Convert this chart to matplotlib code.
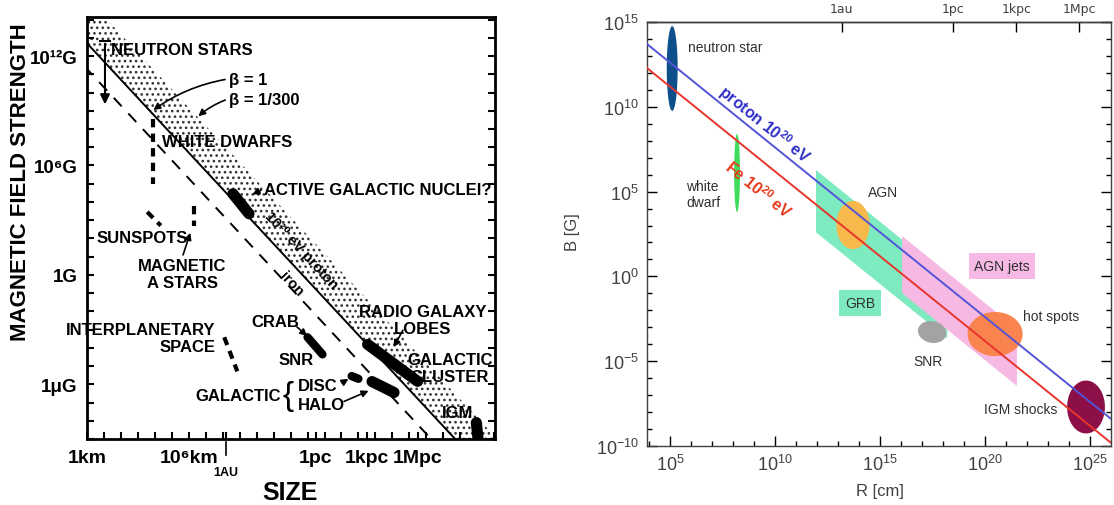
import numpy as np
import matplotlib.pyplot as plt
from matplotlib.ticker import FixedLocator, NullFormatter, NullLocator

plt.rcParams['mathtext.fontset'] = 'custom'
plt.rcParams['mathtext.rm'] = 'Liberation Sans'
plt.rcParams['mathtext.it'] = 'Liberation Sans:italic'
plt.rcParams['mathtext.bf'] = 'Liberation Sans:bold'
plt.rcParams['hatch.linewidth'] = 1.1

OLD = ['Liberation Sans', 'DejaVu Sans']
NEW = ['Liberation Sans', 'DejaVu Sans']

# lengths in cm
KM = 1e5
AU = 1.496e13
PC = 3.086e18
KPC = 3.086e21
MPC = 3.086e24

# ---------------- old Hillas plot ----------------
# log10(B[G] * R[cm]) for a 1e20 eV particle
old_proton = 17.7
old_iron = old_proton - np.log10(26)
old_beta = 300            # beta = 1/300 edge of the stippled band

# smudges marking the sources: start / end in log10 R, log10 B
src_name = ['white dwarfs', 'agn', 'sunspots', 'a stars', 'interplanetary',
            'crab', 'lobes', 'disc', 'halo', 'igm']
src_r0 = [8.90, 13.60, 8.55, 11.32, 13.09, 18.00, 21.54, 20.60, 21.80, 27.95]
src_b0 = [8.54, 4.45, 3.45, 3.77, -3.42, -3.42, -3.81, -5.55, -5.85, -8.10]
src_r1 = [8.90, 14.55, 9.35, 11.32, 13.86, 18.88, 24.49, 21.00, 23.10, 28.05]
src_b1 = [4.97, 3.35, 2.70, 2.67, -5.29, -4.36, -5.84, -5.70, -6.45, -9.00]

# neutron star arrow: log10 R, top and bottom log10 B
ns_r = 6.06
ns_top = 12.82
ns_bottom = 9.2

# ---------------- modern Hillas plot ----------------
proton_BR = 4.0e17            # B[G] * R[cm], proton 1e20 eV
iron_BR = proton_BR / 26      # Fe 1e20 eV

# ellipses: centre and half axes in decades
blob_name = ['neutron star', 'white dwarf', 'AGN', 'SNR', 'hot spots', 'IGM shocks']
blob_r = [5.10, 8.19, 13.71, 17.48, 20.48, 24.81]
blob_b = [12.26, 6.10, 3.03, -3.28, -3.40, -7.70]
blob_dr = [0.26, 0.14, 0.79, 0.70, 1.31, 0.90]
blob_db = [2.50, 2.30, 1.42, 0.62, 1.30, 1.56]
blob_tilt = [0, 0, 0, -35, 0, 0]

# bands: R range and log10(B R) along upper / lower edge
band_name = ['GRB', 'AGN jets']
band_r0 = [11.95, 16.05]
band_r1 = [18.20, 21.52]
band_hi = [18.22, 18.43]
band_lo = [14.55, 15.06]

fig = plt.figure(figsize=(11.14, 5.06), dpi=100)

# ================= left panel =================
ax = fig.add_axes([87 / 1114, 66 / 506, 408 / 1114, 422 / 506])
ax.set_xscale('log')
ax.set_yscale('log')
ax.set_xlim(1e5, 10 ** 29.05)
ax.set_ylim(1e-9, 10 ** 14.14)

xs = np.logspace(4, 30, 200)
ax.fill_between(xs, 10 ** old_proton / xs, 10 ** old_proton * old_beta / xs,
                facecolor='none', edgecolor='#333333', hatch='...', linewidth=0)
ax.plot(xs, 10 ** old_proton / xs, color='k', lw=1.4)
ax.plot(xs, 10 ** old_iron / xs, color='k', lw=1.4, ls=(0, (6, 5)))

dashed_src = {'white dwarfs', 'a stars', 'interplanetary', 'sunspots'}
for name, r0, b0, r1, b1 in zip(src_name, src_r0, src_b0, src_r1, src_b1):
    if name in dashed_src:
        ax.plot([10 ** r0, 10 ** r1], [10 ** b0, 10 ** b1], color='k', lw=3,
                ls=(0, (2, 1.5)), solid_capstyle='butt')
    else:
        lw = 8 if name in ('lobes', 'halo', 'igm', 'agn') else 6
        ax.plot([10 ** r0, 10 ** r1], [10 ** b0, 10 ** b1], color='k', lw=lw,
                solid_capstyle='round')

ax.annotate('', xy=(10 ** ns_r, 10 ** ns_bottom), xytext=(10 ** ns_r, 10 ** ns_top),
            arrowprops=dict(arrowstyle='-|>', color='k', lw=1.5, mutation_scale=14))
ax.plot([10 ** (ns_r - 0.3), 10 ** (ns_r + 0.3)], [10 ** ns_top] * 2, color='k', lw=1.5)

tk = dict(family=OLD, fontweight='bold', fontsize=12, color='k')
ax.text(10 ** 6.42, 10 ** 12.38, 'NEUTRON STARS', va='center', **tk)
ax.text(10 ** 13.39, 10 ** 10.74, 'β = 1', va='center', **tk)
ax.text(10 ** 13.39, 10 ** 9.64, 'β = 1/300', va='center', **tk)
ax.text(10 ** 9.43, 10 ** 7.33, 'WHITE DWARFS', va='center', **tk)
ax.text(10 ** 15.45, 10 ** 4.70, 'ACTIVE GALACTIC NUCLEI?', va='center', **tk)
ax.text(10 ** 5.59, 10 ** 2.07, 'SUNSPOTS', va='center', **tk)
ax.text(10 ** 10.61, 10 ** 0.03, 'MAGNETIC\nA STARS', va='center', ha='center',
        linespacing=1.15, **tk)
ax.text(10 ** 12.56, 10 ** -3.48, 'INTERPLANETARY\nSPACE', va='center', ha='right',
        multialignment='right', linespacing=1.15, **tk)
ax.text(10 ** 16.1, 10 ** -2.54, 'CRAB', va='center', ha='center', **tk)
ax.text(10 ** 17.35, 10 ** -4.63, 'SNR', va='center', ha='center', **tk)
ax.text(10 ** 24.8, 10 ** -2.49, 'RADIO GALAXY\nLOBES', va='center', ha='center',
        linespacing=1.15, **tk)
ax.text(10 ** 26.38, 10 ** -5.12, 'GALACTIC\nCLUSTER', va='center', ha='center',
        linespacing=1.15, **tk)
ax.text(10 ** 26.85, 10 ** -7.54, 'IGM', va='center', ha='center', **tk)
ax.text(10 ** 16.45, 10 ** -6.6, 'GALACTIC', va='center', ha='right', **tk)
ax.text(10 ** 16.85, 10 ** -6.6, '{', va='center', ha='center',
        family=OLD, fontsize=24, color='k')
ax.text(10 ** 17.45, 10 ** -6.06, 'DISC', va='center', **tk)
ax.text(10 ** 17.45, 10 ** -7.1, 'HALO', va='center', **tk)

arr = dict(arrowstyle='-|>', color='k', lw=1.2, mutation_scale=10)
ax.annotate('', xy=(10 ** 8.78, 10 ** 8.95), xytext=(10 ** 13.3, 10 ** 10.74),
            arrowprops=dict(connectionstyle='arc3,rad=0.12', **arr))
ax.annotate('', xy=(10 ** 11.44, 10 ** 8.6), xytext=(10 ** 13.3, 10 ** 9.64),
            arrowprops=dict(connectionstyle='arc3,rad=0.1', **arr))
ax.annotate('', xy=(10 ** 14.6, 10 ** 4.35), xytext=(10 ** 15.4, 10 ** 4.7), arrowprops=arr)
ax.annotate('', xy=(10 ** 11.14, 10 ** 2.45), xytext=(10 ** 10.61, 10 ** 0.95), arrowprops=arr)
ax.annotate('', xy=(10 ** 18.1, 10 ** -3.45), xytext=(10 ** 17.25, 10 ** -2.75), arrowprops=arr)
ax.annotate('', xy=(10 ** 23.0, 10 ** -4.1), xytext=(10 ** 23.7, 10 ** -2.9), arrowprops=arr)
ax.annotate('', xy=(10 ** 20.55, 10 ** -5.62), xytext=(10 ** 19.9, 10 ** -6.0), arrowprops=arr)
ax.annotate('', xy=(10 ** 21.75, 10 ** -6.3), xytext=(10 ** 20.0, 10 ** -7.0), arrowprops=arr)


def line_angle(axes, const, r):
    p0 = axes.transData.transform((r, const / r))
    p1 = axes.transData.transform((r * 10, const / (r * 10)))
    return np.degrees(np.arctan2(p1[1] - p0[1], p1[0] - p0[0]))


ang = line_angle(ax, 10 ** old_proton, 1e17)
ax.text(10 ** 17.6, 10 ** 1.35, '10²⁰ eV proton', rotation=ang, ha='center', va='center',
        rotation_mode='anchor', family=OLD, fontweight='bold', fontsize=10.5)
ax.text(10 ** 17.05, 10 ** -0.45, 'iron', rotation=ang, ha='center', va='center',
        rotation_mode='anchor', family=OLD, fontweight='bold', fontsize=10.5)

ax.xaxis.set_major_locator(FixedLocator([KM, 1e6 * KM, AU, PC, KPC, MPC]))
ax.set_xticklabels(['1km', '10⁶km', '', '1pc', '1kpc', '1Mpc'])
ax.xaxis.set_minor_locator(FixedLocator(10.0 ** np.arange(5, 30)))
ax.xaxis.set_minor_formatter(NullFormatter())
ax.yaxis.set_major_locator(FixedLocator([1e12, 1e6, 1, 1e-6]))
ax.set_yticklabels(['10¹²G', '10⁶G', '1G', '1μG'])
ax.yaxis.set_minor_locator(FixedLocator(10.0 ** np.arange(-9, 15)))
ax.yaxis.set_minor_formatter(NullFormatter())
ax.tick_params(which='both', direction='in', width=1.5, length=5, right=True, top=False,
               pad=7)
for lab in ax.get_xticklabels() + ax.get_yticklabels():
    lab.set_family(OLD)
    lab.set_fontweight('bold')
    lab.set_fontsize(14)
for lab in ax.get_yticklabels():
    lab.set_fontsize(13.5)
for sp in ax.spines.values():
    sp.set_linewidth(2)

# small 1AU marker under the axis
ax.text(AU, 10 ** -10.8, '1AU', ha='center', va='center', family=OLD,
        fontweight='bold', fontsize=9, clip_on=False)
ax.plot([AU, AU], [10 ** -9.15, 10 ** -9.85], color='k', lw=1.2, clip_on=False)

fig.text(21 / 1114, 1 - 182 / 506, 'MAGNETIC FIELD STRENGTH', rotation=90,
         ha='center', va='center', family=OLD, fontweight='bold', fontsize=16)
fig.text(290 / 1114, 1 - 493 / 506, 'SIZE', ha='center', va='center', family=OLD,
         fontweight='bold', fontsize=18)

# ================= right panel =================
bx = fig.add_axes([647 / 1114, 59 / 506, 464 / 1114, 424 / 506])
bx.set_xscale('log')
bx.set_yscale('log')
bx.set_xlim(10 ** 3.9, 1e26)
bx.set_ylim(1e-10, 1e15)

band_color = {'GRB': '#7eeabf', 'AGN jets': '#f6b9e3'}
for name, r0, r1, hi, lo in zip(band_name, band_r0, band_r1, band_hi, band_lo):
    px = np.array([r0, r1, r1, r0])
    py = np.array([hi - r0, hi - r1, lo - r1, lo - r0])
    bx.fill(10 ** px, 10 ** py, color=band_color[name], lw=0, zorder=1)

blob_color = {'neutron star': '#0d4f8b', 'white dwarf': '#3fdc5c', 'AGN': '#f8b94c',
              'SNR': '#a3a3a3', 'hot spots': '#f9844f', 'IGM shocks': '#8c0f47'}
t = np.linspace(0, 2 * np.pi, 200)
for name, r, b, dr, db, tilt in zip(blob_name, blob_r, blob_b, blob_dr, blob_db, blob_tilt):
    ex = dr * np.cos(t)
    ey = db * np.sin(t)
    c, s = np.cos(np.radians(tilt)), np.sin(np.radians(tilt))
    bx.fill(10 ** (r + c * ex - s * ey), 10 ** (b + s * ex + c * ey),
            color=blob_color[name], lw=0, zorder=2)

rs = np.logspace(3.5, 26.5, 100)
bx.plot(rs, proton_BR / rs, color='#5454d8', lw=1.4, zorder=3)
bx.plot(rs, iron_BR / rs, color='#e8352c', lw=1.4, zorder=3)

lk = dict(family=NEW, fontsize=10, color='#303030', zorder=4)
bx.text(10 ** 5.86, 10 ** 13.53, 'neutron star', va='center', **lk)
bx.text(10 ** 5.76, 10 ** 4.86, 'white\ndwarf', va='center', linespacing=1.1, **lk)
bx.text(10 ** 14.43, 10 ** 4.98, 'AGN', va='center', **lk)
bx.text(10 ** 17.29, 10 ** -4.99, 'SNR', va='center', ha='center', **lk)
bx.text(10 ** 21.81, 10 ** -2.33, 'hot spots', va='center', **lk)
bx.text(10 ** 23.43, 10 ** -7.82, 'IGM shocks', va='center', ha='right', **lk)
bx.text(10 ** 14.05, 10 ** -1.57, 'GRB', va='center', ha='center',
        bbox=dict(boxstyle='square,pad=0.45', fc=band_color['GRB'], ec='none'), **lk)
bx.text(10 ** 20.81, 10 ** 0.61, 'AGN jets', va='center', ha='center',
        bbox=dict(boxstyle='square,pad=0.4', fc=band_color['AGN jets'], ec='none'), **lk)

ang = line_angle(bx, proton_BR, 1e9)
bx.text(10 ** 9.48, 10 ** 8.99, r'proton $\mathbf{10^{20}}$ eV', rotation=ang,
        rotation_mode='anchor', ha='center', va='center', family=NEW, fontweight='bold',
        fontsize=11.5, color='#2f2fc8', zorder=4)
bx.text(10 ** 9.19, 10 ** 5.15, r'Fe $\mathbf{10^{20}}$ eV', rotation=ang,
        rotation_mode='anchor', ha='center', va='center', family=NEW, fontweight='bold',
        fontsize=11.5, color='#e8381c', zorder=4)

bx.xaxis.set_major_locator(FixedLocator([1e5, 1e10, 1e15, 1e20, 1e25]))
bx.set_xticklabels([r'$10^{5}$', r'$10^{10}$', r'$10^{15}$', r'$10^{20}$', r'$10^{25}$'])
bx.xaxis.set_minor_locator(FixedLocator(10.0 ** np.arange(4, 26)))
bx.xaxis.set_minor_formatter(NullFormatter())
bx.yaxis.set_major_locator(FixedLocator([1e-10, 1e-5, 1, 1e5, 1e10, 1e15]))
bx.set_yticklabels([r'$10^{-10}$', r'$10^{-5}$', r'$10^{0}$', r'$10^{5}$', r'$10^{10}$',
                    r'$10^{15}$'])
bx.yaxis.set_minor_locator(FixedLocator(10.0 ** np.arange(-10, 16)))
bx.yaxis.set_minor_formatter(NullFormatter())
bx.tick_params(which='major', direction='in', length=7, width=1, right=True, top=False,
               labelsize=13, labelcolor='#404040', pad=6)
bx.tick_params(which='minor', direction='in', length=3.5, width=1, right=True, top=False)
for sp in bx.spines.values():
    sp.set_linewidth(1)
    sp.set_color('#404040')

sec = bx.secondary_xaxis('top')
sec.set_xticks([AU, PC, KPC, MPC])
sec.set_xticklabels(['1au', '1pc', '1kpc', '1Mpc'])
sec.xaxis.set_minor_locator(NullLocator())
sec.tick_params(direction='in', length=7, width=1, labelsize=9, labelcolor='#404040', pad=5)
sec.spines['top'].set_linewidth(1)

fig.text(572 / 1114, 1 - 232 / 506, 'B [G]', rotation=90, ha='center', va='center',
         family=NEW, fontsize=12, color='#404040')
fig.text(880 / 1114, 1 - 492 / 506, 'R [cm]', ha='center', va='center',
         family=NEW, fontsize=12, color='#404040')

fig.savefig('out.png', dpi=100)
